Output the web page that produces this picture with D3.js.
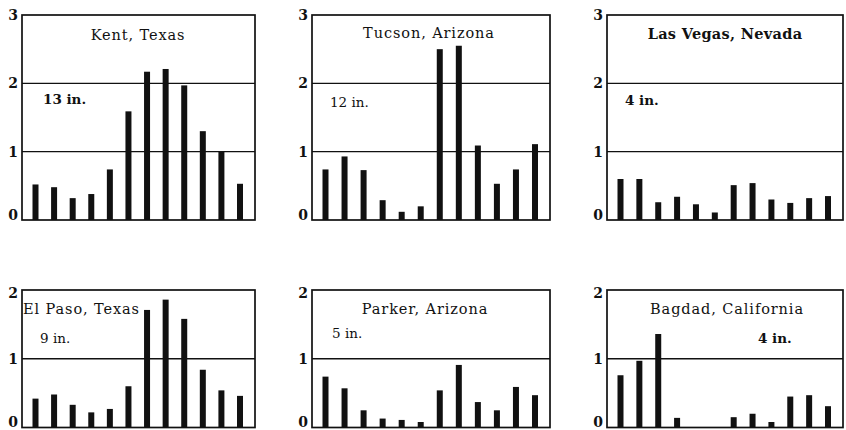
<!DOCTYPE html>
<html>
<head>
<meta charset="utf-8">
<script src="https://cdn.jsdelivr.net/npm/d3@7"></script>
<style>
  html, body { margin: 0; padding: 0; background: #fff; }
  svg { display: block; }
  text { font-family: "DejaVu Serif", "Liberation Serif", serif; fill: #111; }
</style>
</head>
<body>
<svg id="chart" width="846" height="430"></svg>
<script>
// ---- data ----
const months = ["Jan","Feb","Mar","Apr","May","Jun","Jul","Aug","Sep","Oct","Nov","Dec"];
const stations = ["Kent, Texas","Tucson, Arizona","Las Vegas, Nevada","El Paso, Texas","Parker, Arizona","Bagdad, California"];
const totals = ["13 in.","12 in.","4 in.","9 in.","5 in.","4 in."];
const kent     = [0.52,0.48,0.32,0.38,0.74,1.59,2.17,2.21,1.97,1.30,1.00,0.53];
const tucson   = [0.74,0.93,0.73,0.29,0.12,0.20,2.50,2.55,1.09,0.53,0.74,1.11];
const lasVegas = [0.60,0.60,0.26,0.34,0.23,0.11,0.51,0.54,0.30,0.25,0.32,0.35];
const elPaso   = [0.42,0.48,0.33,0.22,0.27,0.60,1.71,1.86,1.58,0.84,0.54,0.46];
const parker   = [0.74,0.57,0.25,0.13,0.11,0.08,0.54,0.91,0.37,0.25,0.59,0.47];
const bagdad   = [0.76,0.97,1.36,0.14,0,0,0.15,0.20,0.08,0.45,0.47,0.31];
const series = [kent, tucson, lasVegas, elPaso, parker, bagdad];
const yTicksTop = [0,1,2,3];
const yTicksBottom = [0,1,2];

// ---- layout (positions / styles) ----
const colLeft  = [22, 312, 607];
const colWidth = [233, 238, 236];
const rows = [
  { top: 15,  bottom: 220,   max: 3, ticks: yTicksTop },
  { top: 290, bottom: 427.5, max: 2, ticks: yTicksBottom }
];
// title: anchor, x, y ; total: x, y ; weights
const textLayout = [
  { tx: 138, ty: 40,  ta: "middle", tw: "normal", nx: 43,  ny: 104, nw: "bold" },
  { tx: 429, ty: 38,  ta: "middle", tw: "normal", nx: 330, ny: 107, nw: "normal" },
  { tx: 725, ty: 39,  ta: "middle", tw: "bold",   nx: 625, ny: 105, nw: "bold" },
  { tx: 23,  ty: 314, ta: "start",  tw: "normal", nx: 40,  ny: 343, nw: "normal" },
  { tx: 425, ty: 314, ta: "middle", tw: "normal", nx: 332, ny: 338, nw: "normal" },
  { tx: 727, ty: 314, ta: "middle", tw: "normal", nx: 758, ny: 343, nw: "bold" }
];

const svg = d3.select("#chart");

series.forEach((vals, i) => {
  const col = i % 3, row = rows[Math.floor(i / 3)];
  const left = colLeft[col], right = left + colWidth[col];
  const x = d3.scalePoint().domain(months).range([left + 13.5, right - 15]);
  const y = d3.scaleLinear().domain([0, row.max]).range([row.bottom, row.top]);
  const g = svg.append("g");

  // gridlines
  g.selectAll("line.grid").data(row.ticks.filter(t => t > 0 && t < row.max)).join("line")
    .attr("x1", left).attr("x2", right)
    .attr("y1", d => y(d)).attr("y2", d => y(d))
    .attr("stroke", "#111").attr("stroke-width", 1.3);

  // bars
  g.selectAll("rect.bar").data(vals.map((v, k) => ({ m: months[k], v }))).join("rect")
    .attr("x", d => x(d.m) - 3).attr("width", 6)
    .attr("y", d => y(d.v)).attr("height", d => y(0) - y(d.v))
    .attr("fill", "#111");

  // frame
  g.append("rect").attr("x", left).attr("y", row.top)
    .attr("width", right - left).attr("height", row.bottom - row.top)
    .attr("fill", "none").attr("stroke", "#111").attr("stroke-width", 1.7);

  // y axis labels
  const axis = d3.axisLeft(y).tickValues(row.ticks).tickFormat(d3.format("d")).tickSize(0).tickPadding(4);
  const ag = g.append("g").attr("transform", `translate(${left},0)`).call(axis);
  ag.select(".domain").remove();
  ag.selectAll("text")
    .attr("font-family", "DejaVu Serif, serif").attr("font-size", 14).attr("font-weight", "bold")
    .attr("fill", "#111")
    .attr("dy", d => d === 0 ? "-0.05em" : (d === row.max && i >= 3 ? "0.55em" : "0.32em"));

  const L = textLayout[i];
  g.append("text").attr("x", L.tx).attr("y", L.ty).attr("text-anchor", L.ta)
    .attr("font-size", 14.5).attr("font-weight", L.tw)
    .attr("letter-spacing", L.tw === "bold" ? 0.3 : 0.9)
    .text(stations[i]);
  g.append("text").attr("x", L.nx).attr("y", L.ny)
    .attr("font-size", 13.5).attr("font-weight", L.nw)
    .text(totals[i]);
});
</script>
</body>
</html>
